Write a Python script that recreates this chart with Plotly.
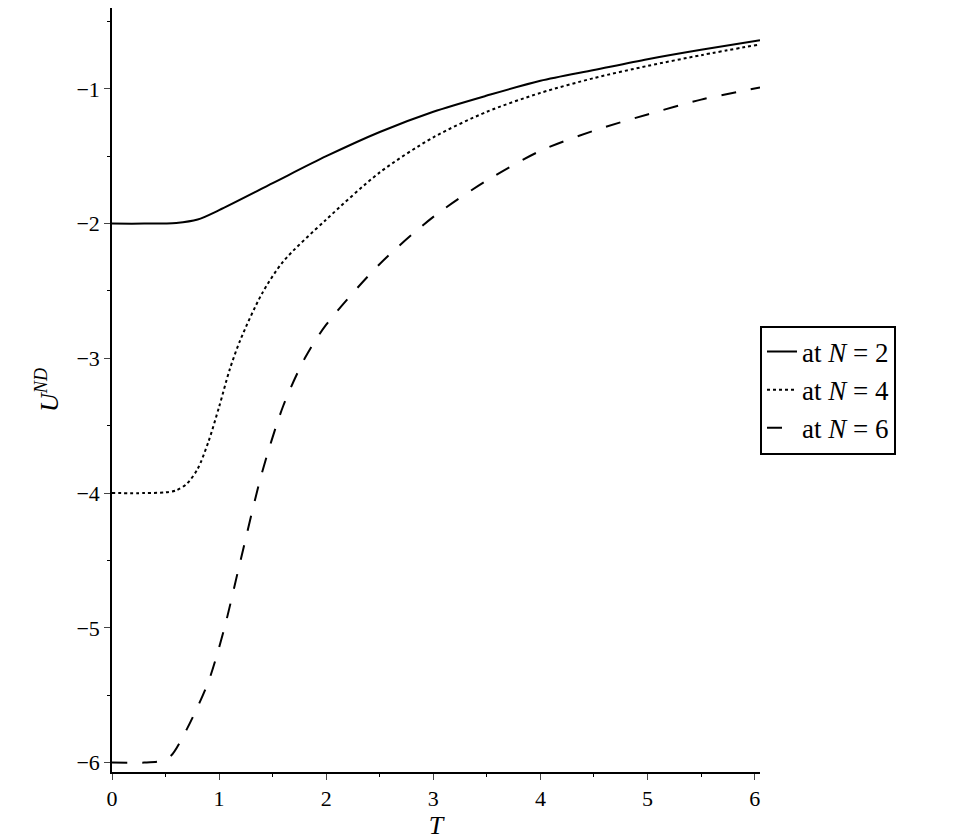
import plotly.graph_objects as go

# values
T2 = [0, 0.3, 0.6, 0.8, 1.0, 1.5, 2.0, 2.5, 3.0, 3.5, 4.0, 4.5, 5.0, 5.5, 6.05]
U2 = [-2, -2, -1.995, -1.97, -1.9, -1.7, -1.5, -1.32, -1.17, -1.05, -0.94, -0.86, -0.78, -0.71, -0.64]

T4 = [0, 0.3, 0.5, 0.6, 0.7, 0.8, 0.9, 1.0, 1.1, 1.2, 1.4, 1.6, 2.0, 2.5, 3.0, 3.5, 4.0, 4.5, 5.0, 5.5, 6.05]
U4 = [-4, -4, -3.995, -3.98, -3.93, -3.82, -3.62, -3.36, -3.08, -2.86, -2.52, -2.28, -1.97, -1.62, -1.36, -1.17, -1.03, -0.92, -0.83, -0.75, -0.67]

T6 = [0, 0.3, 0.45, 0.55, 0.7, 0.9, 1.05, 1.2, 1.4, 1.6, 1.8, 2.0, 2.5, 3.0, 3.5, 4.0, 4.5, 5.0, 5.5, 6.05]
U6 = [-6, -6, -5.99, -5.95, -5.75, -5.4, -5.0, -4.5, -3.85, -3.35, -3.0, -2.75, -2.3, -1.95, -1.68, -1.46, -1.31, -1.19, -1.08, -0.99]

fig = go.Figure()
fig.add_trace(go.Scatter(x=T2, y=U2, mode="lines", line=dict(color="black", width=2, shape="spline", smoothing=0.8),
                         name="at <i>N</i> = 2"))
fig.add_trace(go.Scatter(x=T4, y=U4, mode="lines", line=dict(color="black", width=2, dash="dot", shape="spline", smoothing=0.8),
                         name="at <i>N</i> = 4"))
fig.add_trace(go.Scatter(x=T6, y=U6, mode="lines", line=dict(color="black", width=2, dash="longdash", shape="spline", smoothing=0.8),
                         name="at <i>N</i> = 6"))

font = dict(family="Liberation Serif", size=22, color="black")
fig.update_layout(
    width=980, height=838, plot_bgcolor="white", paper_bgcolor="white",
    margin=dict(l=104, r=228, t=0, b=74), font=font,
    legend=dict(x=1.0, xanchor="left", y=0.5, yanchor="middle", bordercolor="black", borderwidth=2,
                font=dict(family="Liberation Serif", size=27, color="black"), tracegroupgap=0),
    xaxis=dict(range=[0, 6.05], tickvals=[0, 1, 2, 3, 4, 5, 6], ticks="outside", ticklen=6,
               showline=True, linecolor="black", linewidth=1.5, showgrid=False, zeroline=False,
               minor=dict(dtick=0.5, ticks="outside", ticklen=3, tickcolor="black"),
               title=dict(text="<i>T</i>", standoff=0)),
    yaxis=dict(range=[-6.07, -0.4], tickvals=[-6, -5, -4, -3, -2, -1],
               ticktext=["\u22126", "\u22125", "\u22124", "\u22123", "\u22122", "\u22121"],
               ticks="outside", ticklen=6,
               showline=True, linecolor="black", linewidth=1.5, showgrid=False, zeroline=False,
               minor=dict(dtick=0.5, ticks="outside", ticklen=3, tickcolor="black"),
               title=dict(text="<i>U<sup>ND</sup></i>", standoff=10)),
)
fig.write_html("out.html")
